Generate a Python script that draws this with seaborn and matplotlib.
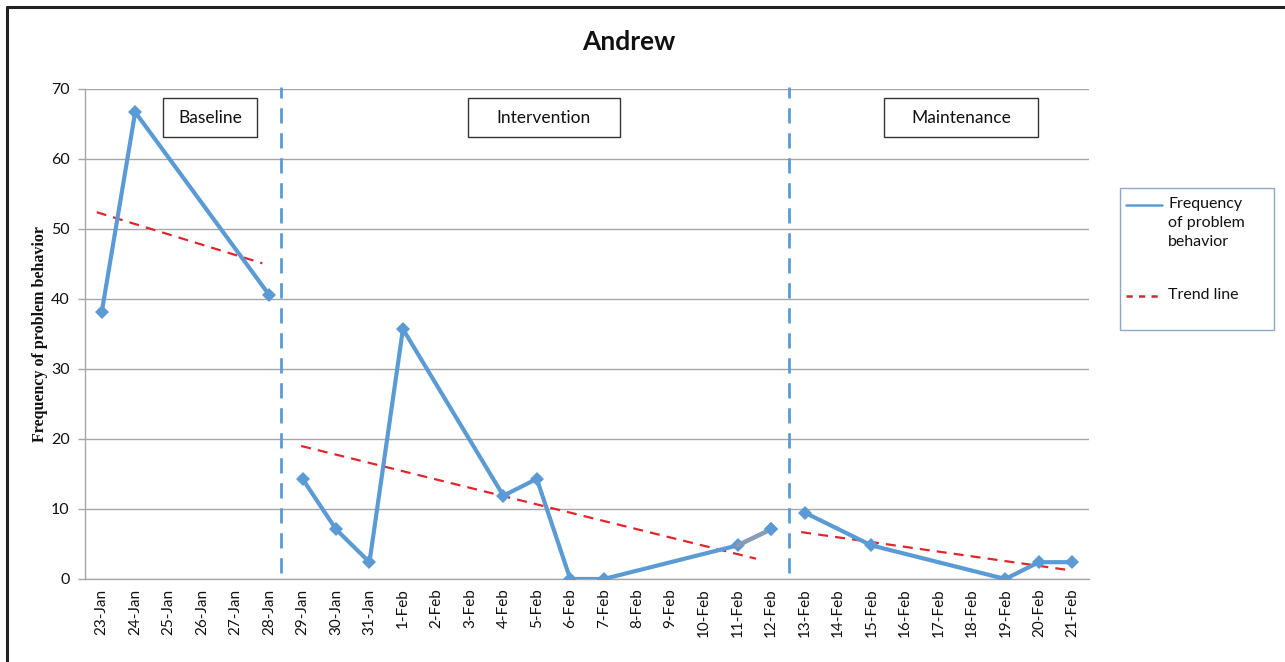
import numpy as np
import pandas as pd
import matplotlib
matplotlib.use("Agg")
import matplotlib.pyplot as plt
import seaborn as sns
from matplotlib.lines import Line2D
from matplotlib.patches import Rectangle

# ---- data -------------------------------------------------------------
dates = ["23-Jan", "24-Jan", "25-Jan", "26-Jan", "27-Jan", "28-Jan", "29-Jan",
         "30-Jan", "31-Jan", "1-Feb", "2-Feb", "3-Feb", "4-Feb", "5-Feb",
         "6-Feb", "7-Feb", "8-Feb", "9-Feb", "10-Feb", "11-Feb", "12-Feb",
         "13-Feb", "14-Feb", "15-Feb", "16-Feb", "17-Feb", "18-Feb", "19-Feb",
         "20-Feb", "21-Feb"]

frequency = [38.1, 66.7, None, None, None, 40.6, 14.3,
             7.1, 2.4, 35.7, None, None, 11.9, 14.3,
             0.0, 0.0, None, None, None, 4.8, 7.1,
             9.5, None, 4.8, None, None, None, 0.0,
             2.4, 2.4]

phases = (["Baseline"] * 6) + (["Intervention"] * 15) + (["Maintenance"] * 9)
phase_names = ["Baseline", "Intervention", "Maintenance"]

# trend lines: (start index, start value, end index, end value)
trend_start_x = [-0.15, 5.96, 20.9]
trend_start_y = [52.4, 19.0, 6.7]
trend_end_x = [4.8, 19.55, 29.0]
trend_end_y = [45.1, 2.9, 1.2]

y_ticks = [0, 10, 20, 30, 40, 50, 60, 70]

# ---- style --------------------------------------------------------------
sns.set_theme(style="white")
plt.rcParams["font.family"] = ["Lato", "DejaVu Sans"]

BLUE = "#5B9BD5"
RED = "#E0262C"
GRID = "#A6A6A6"
INK = "#111111"

df = pd.DataFrame({"date": dates, "idx": np.arange(len(dates)),
                   "value": frequency, "phase": phases}).dropna()

fig = plt.figure(figsize=(12.85, 6.62), dpi=100)
ax = fig.add_axes([85 / 1285, 1 - 579 / 662, (1089 - 85) / 1285, (579 - 89) / 662])

# frequency series, one connected run per phase
sns.lineplot(data=df, x="idx", y="value", units="phase", estimator=None,
             color=BLUE, lw=3.0, marker="D", markersize=7.5, markeredgewidth=0,
             sort=True, ax=ax, zorder=4, legend=False)

# last intervention segment rendered in a greyed tone
seg = df[df["date"].isin(["11-Feb", "12-Feb"])]
ax.plot(seg["idx"], seg["value"], color="#8A9BB2", lw=3.0, zorder=5,
        solid_capstyle="round")
ax.plot(seg["idx"].iloc[-1:], seg["value"].iloc[-1:], "D", color=BLUE,
        markersize=7.5, markeredgewidth=0, zorder=6)

# trend lines
for x0, y0, x1, y1 in zip(trend_start_x, trend_start_y, trend_end_x, trend_end_y):
    ax.plot([x0, x1], [y0, y1], color=RED, lw=1.6, ls=(0, (4.5, 3.2)), zorder=3)

# phase change lines
for xp in [5.37, 20.53]:
    ax.axvline(xp, ymin=0.012, ymax=1.005, color=BLUE, lw=2.0,
               ls=(0, (5.5, 3.5)), zorder=2, clip_on=False)

# axes, grid, ticks
n = len(dates)
ax.set_xlim(-0.5, n - 0.5)
ax.set_ylim(0, 70)
ax.set_yticks(y_ticks)
ax.set_yticklabels([str(v) for v in y_ticks], fontsize=11.5, color=INK)
ax.set_xticks(np.arange(n))
ax.set_xticklabels(dates, rotation=90, fontsize=11, color=INK)
ax.set_xticks(np.arange(n + 1) - 0.5, minor=True)
ax.tick_params(axis="x", which="major", length=0, pad=7)
ax.tick_params(axis="x", which="minor", length=5, width=1, color=GRID,
               direction="out")
ax.tick_params(axis="y", which="major", length=5, width=1, color=GRID,
               direction="out", pad=6, left=True)
ax.yaxis.grid(True, color=GRID, lw=1)
ax.xaxis.grid(False)
for side in ["top", "right"]:
    ax.spines[side].set_visible(False)
for side in ["left", "bottom"]:
    ax.spines[side].set_color(GRID)
    ax.spines[side].set_linewidth(1)
ax.set_xlabel("")
ax.set_ylabel("Frequency of problem behavior", family="Liberation Serif",
              fontweight="bold", fontsize=11.5, color=INK)
ax.yaxis.set_label_coords(-0.037, 0.5)

# phase labels in boxes
box_specs = [("Baseline", 163, 257), ("Intervention", 468, 620),
             ("Maintenance", 884, 1038)]
for name, x0, x1 in box_specs:
    fig.add_artist(Rectangle((x0 / 1285, 1 - 137 / 662), (x1 - x0) / 1285,
                             39 / 662, transform=fig.transFigure,
                             facecolor="white", edgecolor="#333333", lw=1.0,
                             zorder=10))
    fig.text((x0 + x1) / 2 / 1285, 1 - 118 / 662, name, ha="center",
             va="center", fontsize=12.5, color=INK, zorder=11)

# title
fig.text(629 / 1285, 1 - 42 / 662, "Andrew", ha="center", va="center",
         fontsize=19, fontweight="bold", color=INK)

# legend
fig.add_artist(Rectangle((1120 / 1285, 1 - 330 / 662), 154 / 1285, 142 / 662,
                         transform=fig.transFigure, facecolor="white",
                         edgecolor="#8FA8C8", lw=1.0))
fig.add_artist(Line2D([1126 / 1285, 1162 / 1285], [1 - 205 / 662] * 2,
                      transform=fig.transFigure, color=BLUE, lw=1.8))
fig.text(1168 / 1285, 1 - 197 / 662, "Frequency\nof problem\nbehavior",
         ha="left", va="top", fontsize=11.5, color=INK, linespacing=1.45)
fig.add_artist(Line2D([1126 / 1285, 1162 / 1285], [1 - 296 / 662] * 2,
                      transform=fig.transFigure, color="#C0303A", lw=1.8,
                      ls=(0, (2.5, 2.5))))
fig.text(1168 / 1285, 1 - 295 / 662, "Trend line", ha="left", va="center",
         fontsize=11.5, color=INK)

# page frame (top and left edges)
fig.add_artist(Line2D([7 / 1285, 1.0], [1 - 7 / 662] * 2,
                      transform=fig.transFigure, color="#222222", lw=2.2))
fig.add_artist(Line2D([7 / 1285] * 2, [0.0, 1 - 7 / 662],
                      transform=fig.transFigure, color="#222222", lw=2.2))

fig.savefig("out.png", dpi=100, facecolor="white")
